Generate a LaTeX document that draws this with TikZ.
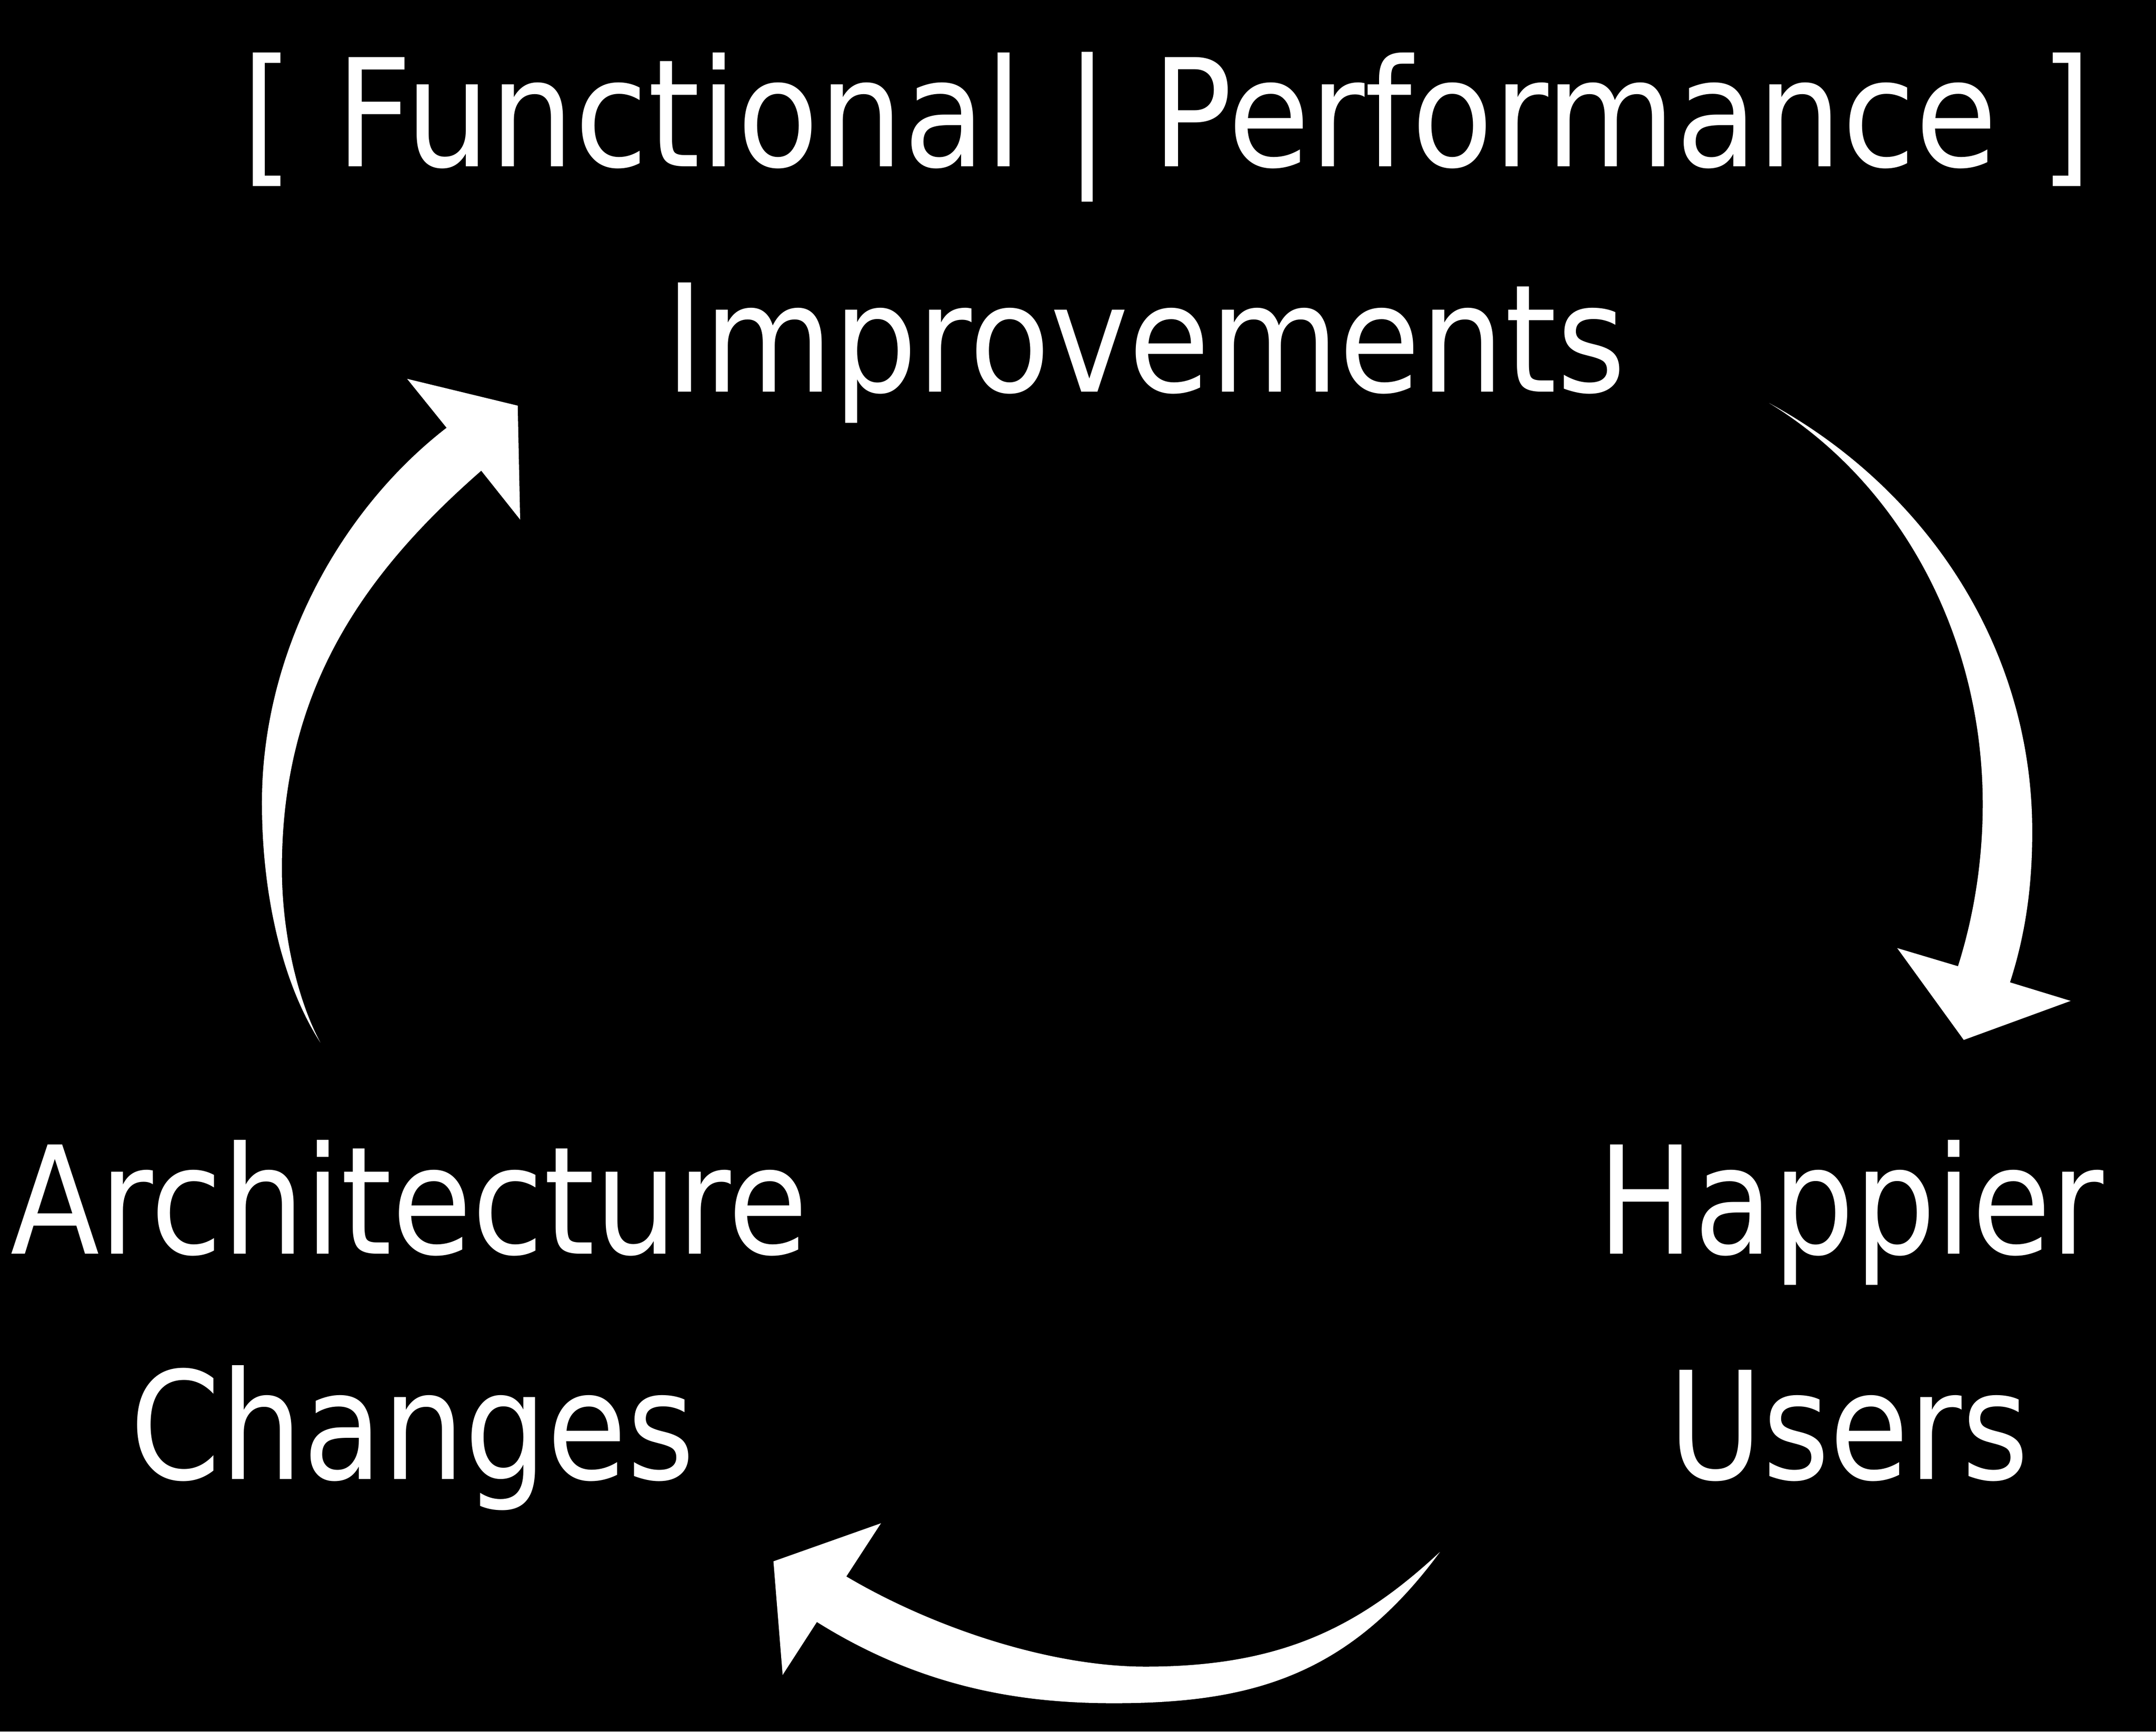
\documentclass[tikz,border=0pt]{standalone}
\usepackage{fontspec}
\setmainfont{DejaVu Sans}
\begin{document}
\begin{tikzpicture}[x=0.01cm,y=-0.01cm,
  lbl/.style={text=white, inner sep=0pt, anchor=base, font=\fontsize{31}{37}\selectfont},
  arrowshape/.style={fill=white, draw=none}]
\fill[black] (0,0) rectangle (1568,1259.7);
\useasboundingbox (0,0) rectangle (1568,1259.7);
% labels
\node[lbl] (title) at (848.5,121) {\scalebox{0.89}[1]{[ Functional | Performance ]}};
\node[lbl] (impr) at (833,285) {\scalebox{0.884}[1]{Improvements}};
\node[lbl] (arch1) at (297.7,912) {\scalebox{0.869}[1]{Architecture}};
\node[lbl] (arch2) at (299.9,1076) {\scalebox{0.866}[1]{Changes}};
\node[lbl] (happ1) at (1345.9,912) {\scalebox{0.857}[1]{Happier}};
\node[lbl] (happ2) at (1344.5,1076) {\scalebox{0.86}[1]{Users}};
% left arrow (Architecture Changes -> Improvements)
\fill[arrowshape] (233,758.4) .. controls (205,715) and (190.5,650) .. (190.5,584)
  .. controls (190.5,474) and (247.5,371) .. (324.8,311.2) -- (296.1,275.6) -- (376.5,295.1) -- (378.3,378) -- (350,342.4)
  .. controls (263.9,417.7) and (205,502) .. (205,632) .. controls (205,675) and (215,725) .. (233,758.4) -- cycle;
% right arrow (Improvements -> Happier Users)
\fill[arrowshape] (1286.6,293.2) .. controls (1400,355) and (1478,470) .. (1478,605)
  .. controls (1478,645) and (1473,680) .. (1461.8,714.6) -- (1505.9,728.1) -- (1428.2,756.5) -- (1379.8,689.7) -- (1424,702.9)
  .. controls (1436,665) and (1442,625) .. (1442,585) .. controls (1442,460) and (1380,350) .. (1286.6,293.2) -- cycle;
% bottom arrow (Happier Users -> Architecture Changes)
\fill[arrowshape] (1047.3,1128.9) .. controls (980.8,1219.2) and (910,1239) .. (810,1239)
  .. controls (750,1239) and (674.7,1230.5) .. (594.1,1179.9) -- (569.2,1218.4) -- (562.5,1135.8) -- (640.7,1108.1) -- (615.5,1146.8)
  .. controls (677.8,1183.7) and (763,1212.4) .. (833,1212.4) .. controls (930,1212.4) and (987.3,1184.9) .. (1047.3,1128.9) -- cycle;
\end{tikzpicture}
\end{document}
